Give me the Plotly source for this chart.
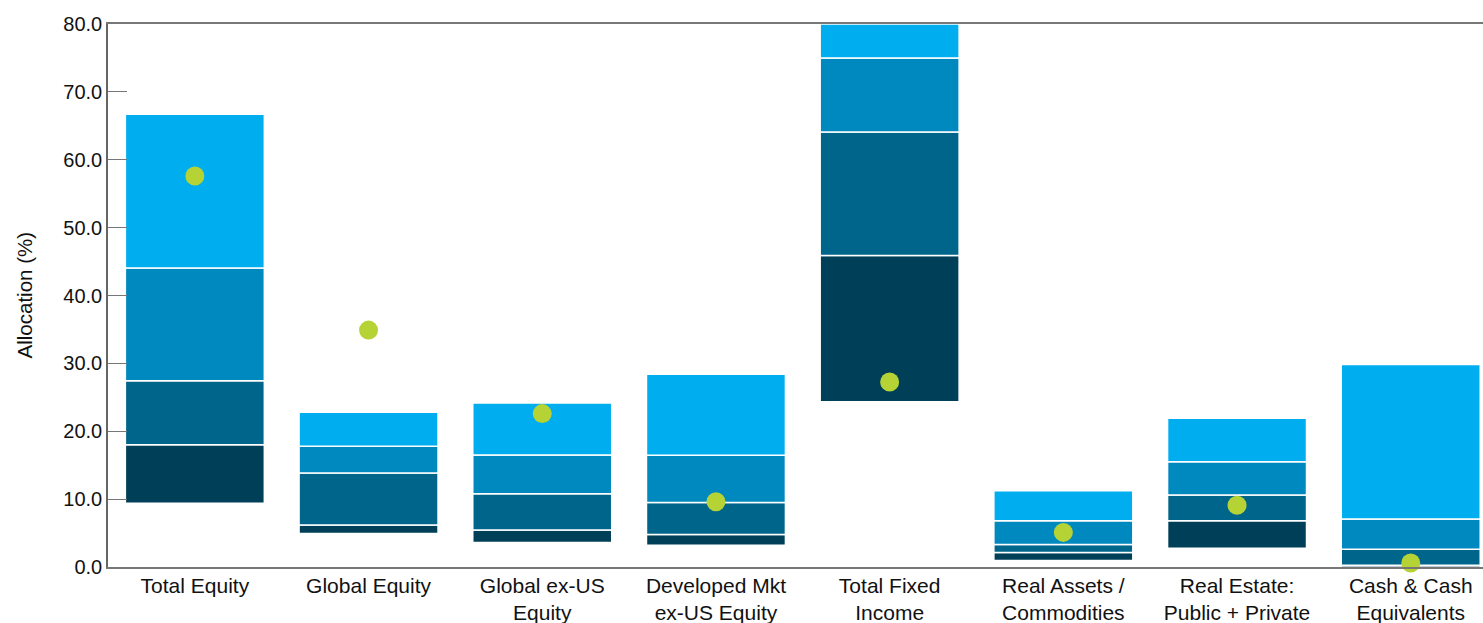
import plotly.graph_objects as go

categories = ["Total Equity", "Global Equity", "Global ex-US<br>Equity", "Developed Mkt<br>ex-US Equity",
              "Total Fixed<br>Income", "Real Assets /<br>Commodities", "Real Estate:<br>Public + Private",
              "Cash & Cash<br>Equivalents"]
p5 = [9.4, 4.95, 3.6, 3.2, 24.35, 0.95, 2.75, 0.0]
p25 = [18.0, 6.2, 5.45, 4.8, 45.9, 2.15, 6.8, 0.25]
p50 = [27.45, 13.85, 10.8, 9.5, 64.1, 3.3, 10.6, 2.6]
p75 = [44.05, 17.8, 16.5, 16.45, 75.0, 6.8, 15.5, 7.07]
p95 = [66.7, 22.8, 24.15, 28.4, 80.0, 11.25, 21.9, 29.85]
dots = [57.6, 34.9, 22.6, 9.6, 27.25, 5.1, 9.1, 0.6]

colors = ["#003F58", "#00658A", "#0089BF", "#00AEEF"]
bounds = [p5, p25, p50, p75, p95]

fig = go.Figure()
xs = list(range(len(categories)))
for i in range(4):
    lo = bounds[i]
    hi = bounds[i + 1]
    fig.add_trace(go.Bar(
        x=xs, y=[h - l for h, l in zip(hi, lo)], base=lo, width=0.8,
        marker=dict(color=colors[i], line=dict(color="white", width=1.5)),
        showlegend=False, hoverinfo="skip"))

fig.add_trace(go.Scatter(x=xs, y=dots, mode="markers",
                         marker=dict(color="#B5D334", size=19, line=dict(width=0)),
                         showlegend=False, cliponaxis=False))

font_family = "Liberation Sans, Arial, sans-serif"
fig.update_layout(
    barmode="overlay",
    width=1483, height=623,
    margin=dict(l=108, r=0, t=24, b=56),
    paper_bgcolor="white", plot_bgcolor="white",
    font=dict(family=font_family, size=20, color="#111111"),
    xaxis=dict(range=[-0.5, 7.416], tickvals=xs, ticktext=categories, showgrid=False,
               showline=True, linecolor="#777777", linewidth=1.5, mirror=True, automargin=False,
               ticks="", zeroline=False, ticklabeloverflow="allow", ticklabelstandoff=-1,
               tickfont=dict(size=21, color="#111111")),
    yaxis=dict(range=[0, 80], tickvals=[0, 10, 20, 30, 40, 50, 60, 70, 80],
               ticktext=["0.0", "10.0", "20.0", "30.0", "40.0", "50.0", "60.0", "70.0", "80.0"],
               showgrid=False, zeroline=False, showline=True, linecolor="#666666", linewidth=1.5,
               ticks="inside", ticklen=19, tickcolor="#777777", tickwidth=1, automargin=False,
               ticklabelstandoff=0, tickfont=dict(size=20, color="#111111")),
    annotations=[dict(text="Allocation (%)", xref="paper", yref="paper", x=-0.0604, y=0.5,
                      xanchor="center", yanchor="middle", textangle=-90, showarrow=False,
                      font=dict(size=20.5, color="#111111"))],
)
fig.write_html("out.html", config={"displayModeBar": False})
with open("out.html", "r", encoding="utf-8") as f:
    html = f.read()
html = html.replace("<head>", "<head><style>html,body{margin:0;padding:0;overflow:hidden;}</style>", 1)
with open("out.html", "w", encoding="utf-8") as f:
    f.write(html)
